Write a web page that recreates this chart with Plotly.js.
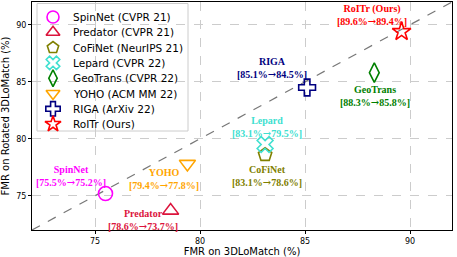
<!DOCTYPE html>
<html><head><meta charset="utf-8">
<script src="https://cdn.plot.ly/plotly-3.0.1.min.js"></script>
<style>html,body{margin:0;padding:0;background:#fff}#c{width:457px;height:257px}</style>
</head><body><div id="c"></div>
<script>
const methods = ["SpinNet (CVPR 21)","Predator (CVPR 21)","CoFiNet (NeurIPS 21)","Lepard (CVPR 22)","GeoTrans (CVPR 22)","YOHO (ACM MM 22)","RIGA (ArXiv 22)","RoITr (Ours)"];
const shortNames = ["SpinNet","Predator","CoFiNet","Lepard","GeoTrans","YOHO","RIGA","RoITr (Ours)"];
const fmr3DLoMatch = [75.5, 78.6, 83.1, 83.1, 88.3, 79.4, 85.1, 89.6];
const fmrRotated = [75.2, 73.7, 78.6, 79.5, 85.8, 77.8, 84.5, 89.4];
const labelX = [73.86, 77.29, 83.19, 83.19, 88.33, 78.29, 83.43, 88.19];
const labelY = [76.78, 72.92, 76.78, 81.0, 83.75, 76.47, 86.21, 90.9];
const axisRange = [72, 92];
const xTicks = [75, 80, 85, 90];
const yTicks = [75, 80, 85, 90];

const colors = ["#ff00ff","#dc143c","#808000","#40e0d0","#008000","#ffa500","#000080","#ff0000"];
const symbols = ["circle-open","triangle-up-open","pentagon-open","x-open","diamond-tall-open","triangle-down-open","cross-open","star-open"];

// custom legend layout (pixel-like overlay axis over the plot area)
const plotW = 420, plotH = 228;
const legTop = 15, legStep = 15.3, legMarkX = 21, legTextX = 39;

const traces = [{
  x: axisRange, y: axisRange, mode: "lines", showlegend: false, hoverinfo: "skip",
  line: {color: "#777777", width: 1.2, dash: "dash"}
}];
methods.forEach((m, i) => {
  traces.push({
    x: [fmr3DLoMatch[i]], y: [fmrRotated[i]], name: m, mode: "markers", showlegend: false,
    marker: {symbol: symbols[i], size: 14, color: colors[i], line: {width: 1.6, color: colors[i]}}
  });
});
// legend markers
traces.push({
  x: methods.map(() => legMarkX), y: methods.map((m, i) => legTop + legStep * i),
  xaxis: "x2", yaxis: "y2", mode: "markers", showlegend: false, hoverinfo: "skip",
  marker: {symbol: symbols, size: 12, color: colors, line: {width: 1.6, color: colors}}
});

const fmt = v => v.toFixed(1) + "%";
const arrow = "<span style='font-family:DejaVu Serif'>→</span>";
const annotations = methods.map((m, i) => ({
  x: labelX[i], y: labelY[i], xref: "x", yref: "y", showarrow: false,
  text: "<b>" + shortNames[i] + "<br>[" + fmt(fmr3DLoMatch[i]) + arrow + fmt(fmrRotated[i]) + "]</b>",
  font: {family: "Liberation Serif", size: 10, color: colors[i]}, align: "center"
}));
methods.forEach((m, i) => annotations.push({
  x: legTextX, y: legTop + legStep * i, xref: "x2", yref: "y2", xanchor: "left", yanchor: "middle",
  showarrow: false, text: m, font: {family: "DejaVu Sans", size: 10.5, color: "#000"}
}));

const axisCommon = {
  range: axisRange, showgrid: true, gridcolor: "#cccccc", griddash: "dash", gridwidth: 1,
  zeroline: false, showline: true, linecolor: "#000", linewidth: 1, mirror: true,
  ticks: "outside", ticklen: 3, tickcolor: "#000",
  tickfont: {family: "DejaVu Sans", size: 8, color: "#000"}
};
const layout = {
  width: 457, height: 257,
  margin: {l: 32, r: 5, t: 2, b: 27},
  paper_bgcolor: "#fff", plot_bgcolor: "#fff",
  xaxis: Object.assign({}, axisCommon, {tickvals: xTicks,
    title: {text: "FMR on 3DLoMatch (%)", font: {family: "DejaVu Sans", size: 10, color: "#000"}, standoff: 4}}),
  yaxis: Object.assign({}, axisCommon, {tickvals: yTicks,
    title: {text: "FMR on Rotated 3DLoMatch (%)", font: {family: "DejaVu Sans", size: 10, color: "#000"}, standoff: 4}}),
  xaxis2: {overlaying: "x", range: [0, plotW], visible: false, fixedrange: true},
  yaxis2: {overlaying: "y", range: [plotH, 0], visible: false, fixedrange: true},
  shapes: [{type: "rect", xref: "x2", yref: "y2", x0: 5, x1: 156, y0: 1.5, y1: 129,
    fillcolor: "rgba(255,255,255,0.85)", line: {color: "#cccccc", width: 1}, layer: "below"}],
  annotations: annotations,
  showlegend: false
};
Plotly.newPlot("c", traces, layout, {displayModeBar: false, staticPlot: true});
</script></body></html>
